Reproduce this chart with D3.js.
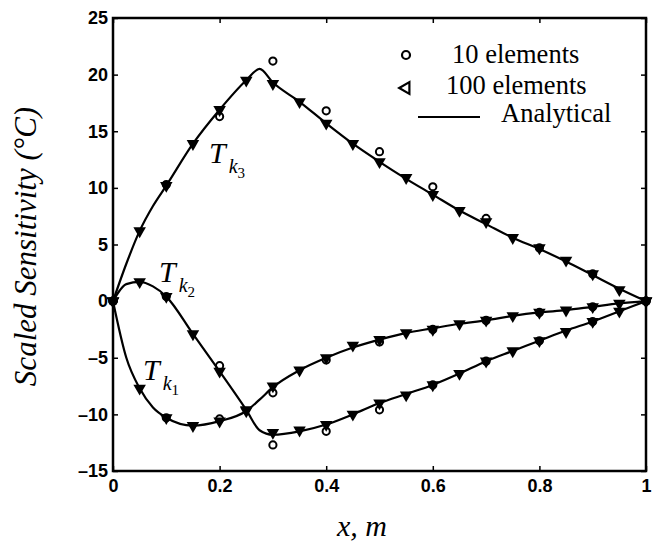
<!DOCTYPE html>
<html>
<head>
<meta charset="utf-8">
<script src="https://cdn.jsdelivr.net/npm/d3@7"></script>
<style>
  body { margin: 0; background: #fff; }
  .tick text { font-family: "Liberation Sans", Arial, sans-serif; font-weight: bold; font-size: 18px; }
</style>
</head>
<body>
<svg class="chart" width="655" height="546"></svg>
<script>
// sample positions
const xFine = [0, 0.05, 0.1, 0.15, 0.2, 0.25, 0.3, 0.35, 0.4, 0.45, 0.5, 0.55, 0.6, 0.65, 0.7, 0.75, 0.8, 0.85, 0.9, 0.95, 1];
const xCoarse = [0, 0.1, 0.2, 0.3, 0.4, 0.5, 0.6, 0.7, 0.8, 0.9, 1];

// 100 elements (triangles)
const tk1Fine = [0, -7.7, -10.3, -11.0, -10.6, -9.7, -7.5, -6.1, -5.0, -3.9, -3.4, -2.8, -2.5, -2.0, -1.7, -1.3, -1.0, -0.8, -0.5, -0.2, 0];
const tk2Fine = [0, 1.7, 0.4, -2.9, -6.2, -9.6, -11.6, -11.4, -10.9, -10.0, -9.0, -8.3, -7.4, -6.4, -5.3, -4.4, -3.5, -2.7, -1.8, -0.9, 0];
const tk3Fine = [0, 6.2, 10.2, 13.9, 16.9, 19.5, 19.2, 17.6, 15.7, 13.9, 12.3, 10.9, 9.4, 8.0, 7.0, 5.6, 4.7, 3.6, 2.4, 1.0, 0];

// 10 elements (circles)
const tk1Coarse = [0, -10.3, -10.4, -8.1, -5.2, -3.6, -2.5, -1.7, -1.0, -0.5, 0];
const tk2Coarse = [0, 0.4, -5.7, -12.7, -11.5, -9.6, -7.4, -5.3, -3.5, -1.8, 0];
const tk3Coarse = [0, 10.3, 16.3, 21.2, 16.8, 13.2, 10.1, 7.3, 4.7, 2.4, 0];

// analytical curves
const xLine = [0, 0.025, 0.05, 0.075, 0.1, 0.15, 0.2, 0.25, 0.275, 0.3, 0.35, 0.4, 0.45, 0.5, 0.55, 0.6, 0.65, 0.7, 0.75, 0.8, 0.85, 0.9, 0.95, 1];
const tk1Line = [0, -5.0, -7.7, -9.4, -10.3, -11.0, -10.6, -9.7, -8.7, -7.6, -6.1, -5.0, -4.1, -3.4, -2.8, -2.4, -2.0, -1.7, -1.3, -1.0, -0.8, -0.5, -0.2, 0];
const tk2Line = [0, 1.5, 1.7, 1.3, 0.4, -2.9, -6.2, -9.6, -11.4, -11.8, -11.5, -10.9, -10.0, -9.0, -8.2, -7.4, -6.4, -5.3, -4.4, -3.5, -2.6, -1.8, -0.9, 0];
const tk3Line = [0, 3.3, 6.2, 8.4, 10.2, 13.9, 16.9, 19.5, 20.5, 19.3, 17.6, 15.7, 13.9, 12.3, 10.8, 9.4, 8.0, 6.8, 5.6, 4.6, 3.5, 2.3, 1.1, 0];

const xTicks = [0, 0.2, 0.4, 0.6, 0.8, 1];
const yTicks = [-15, -10, -5, 0, 5, 10, 15, 20, 25];

const margin = { top: 18, right: 9, bottom: 75, left: 113 };
const width = 655 - margin.left - margin.right;
const height = 546 - margin.top - margin.bottom;

const x = d3.scaleLinear().domain([0, 1]).range([0, width]);
const y = d3.scaleLinear().domain([-15, 25]).range([height, 0]);

const svg = d3.select('svg.chart')
  .append('g')
  .attr('transform', `translate(${margin.left}, ${margin.top})`);

// axes, ticks inward
svg.append('g')
  .attr('transform', `translate(0, ${height})`)
  .call(d3.axisBottom(x).tickValues(xTicks).tickSize(-5).tickPadding(8).tickFormat(d3.format('')));
svg.append('g')
  .call(d3.axisTop(x).tickValues(xTicks).tickSize(-5).tickFormat(''));
svg.append('g')
  .call(d3.axisLeft(y).tickValues(yTicks).tickSize(-5).tickPadding(5));
svg.append('g')
  .attr('transform', `translate(${width}, 0)`)
  .call(d3.axisRight(y).tickValues(yTicks).tickSize(-5).tickFormat(''));

svg.selectAll('.domain').remove();
svg.selectAll('.tick line').attr('stroke', '#000').attr('stroke-width', 1.5);
svg.selectAll('.tick text').attr('fill', '#000');
svg.selectAll('.tick text').text(function() { return this.textContent.replace('−', '–'); });

svg.append('rect')
  .attr('width', width)
  .attr('height', height)
  .attr('fill', 'none')
  .attr('stroke', '#000')
  .attr('stroke-width', 2.5);

// analytical lines
const line = d3.line()
  .x(d => x(d[0]))
  .y(d => y(d[1]))
  .curve(d3.curveMonotoneX);

[tk1Line, tk2Line, tk3Line].forEach(vals => {
  svg.append('path')
    .datum(xLine.map((v, i) => [v, vals[i]]))
    .attr('d', line)
    .attr('fill', 'none')
    .attr('stroke', '#000')
    .attr('stroke-width', 2.2);
});

// 10 element circles
[tk1Coarse, tk2Coarse, tk3Coarse].forEach(vals => {
  svg.selectAll(null)
    .data(xCoarse.map((v, i) => [v, vals[i]]))
    .enter()
    .append('circle')
      .attr('cx', d => x(d[0]))
      .attr('cy', d => y(d[1]))
      .attr('r', 3.6)
      .attr('fill', 'none')
      .attr('stroke', '#000')
      .attr('stroke-width', 2);
});

// 100 element triangles (down pointing, filled)
const tri = d3.symbol().type(d3.symbolTriangle).size(68);
[tk1Fine, tk2Fine, tk3Fine].forEach(vals => {
  svg.selectAll(null)
    .data(xFine.map((v, i) => [v, vals[i]]))
    .enter()
    .append('path')
      .attr('d', tri)
      .attr('transform', d => `translate(${x(d[0])}, ${y(d[1])}) rotate(180)`)
      .attr('fill', '#000');
});

const root = d3.select('svg.chart');
const serif = '"Liberation Serif", "Times New Roman", serif';

// curve labels
const labels = [
  { sub: '3', px: 209, py: 163 },
  { sub: '2', px: 159, py: 282 },
  { sub: '1', px: 143, py: 380 }
];
labels.forEach(l => {
  const t = root.append('text')
    .attr('x', l.px)
    .attr('y', l.py)
    .style('font-family', serif)
    .style('font-size', '30px');
  t.append('tspan').text('T').style('font-style', 'italic');
  t.append('tspan').text('k').style('font-style', 'italic').style('font-size', '20px')
    .attr('dx', 3).attr('dy', 10);
  t.append('tspan').text(l.sub).style('font-size', '15px').attr('dy', 5);
});

// legend
root.append('circle')
  .attr('cx', 406).attr('cy', 55).attr('r', 4)
  .attr('fill', 'none').attr('stroke', '#000').attr('stroke-width', 2.2);
root.append('path')
  .attr('d', d3.symbol().type(d3.symbolTriangle).size(60))
  .attr('transform', 'translate(406, 88) rotate(-90)')
  .attr('fill', 'none').attr('stroke', '#000').attr('stroke-width', 2.2);
root.append('line')
  .attr('x1', 418).attr('x2', 480).attr('y1', 117).attr('y2', 117)
  .attr('stroke', '#000').attr('stroke-width', 2.2);

const legText = [
  { t: '10 elements', px: 452, py: 63 },
  { t: '100 elements', px: 446, py: 94 },
  { t: 'Analytical', px: 501, py: 122 }
];
legText.forEach(d => {
  root.append('text')
    .attr('x', d.px).attr('y', d.py)
    .text(d.t)
    .style('font-family', serif)
    .style('font-size', '26.5px');
});

// axis labels
root.append('text')
  .attr('transform', `translate(36, ${margin.top + height / 2 + 2}) rotate(-90)`)
  .style('text-anchor', 'middle')
  .style('font-family', serif)
  .style('font-style', 'italic')
  .style('font-size', '31px')
  .text('Scaled Sensitivity (°C)');

root.append('text')
  .attr('x', 362).attr('y', 536)
  .style('text-anchor', 'middle')
  .style('font-family', serif)
  .style('font-style', 'italic')
  .style('font-size', '30px')
  .text('x, m');
</script>
</body>
</html>
